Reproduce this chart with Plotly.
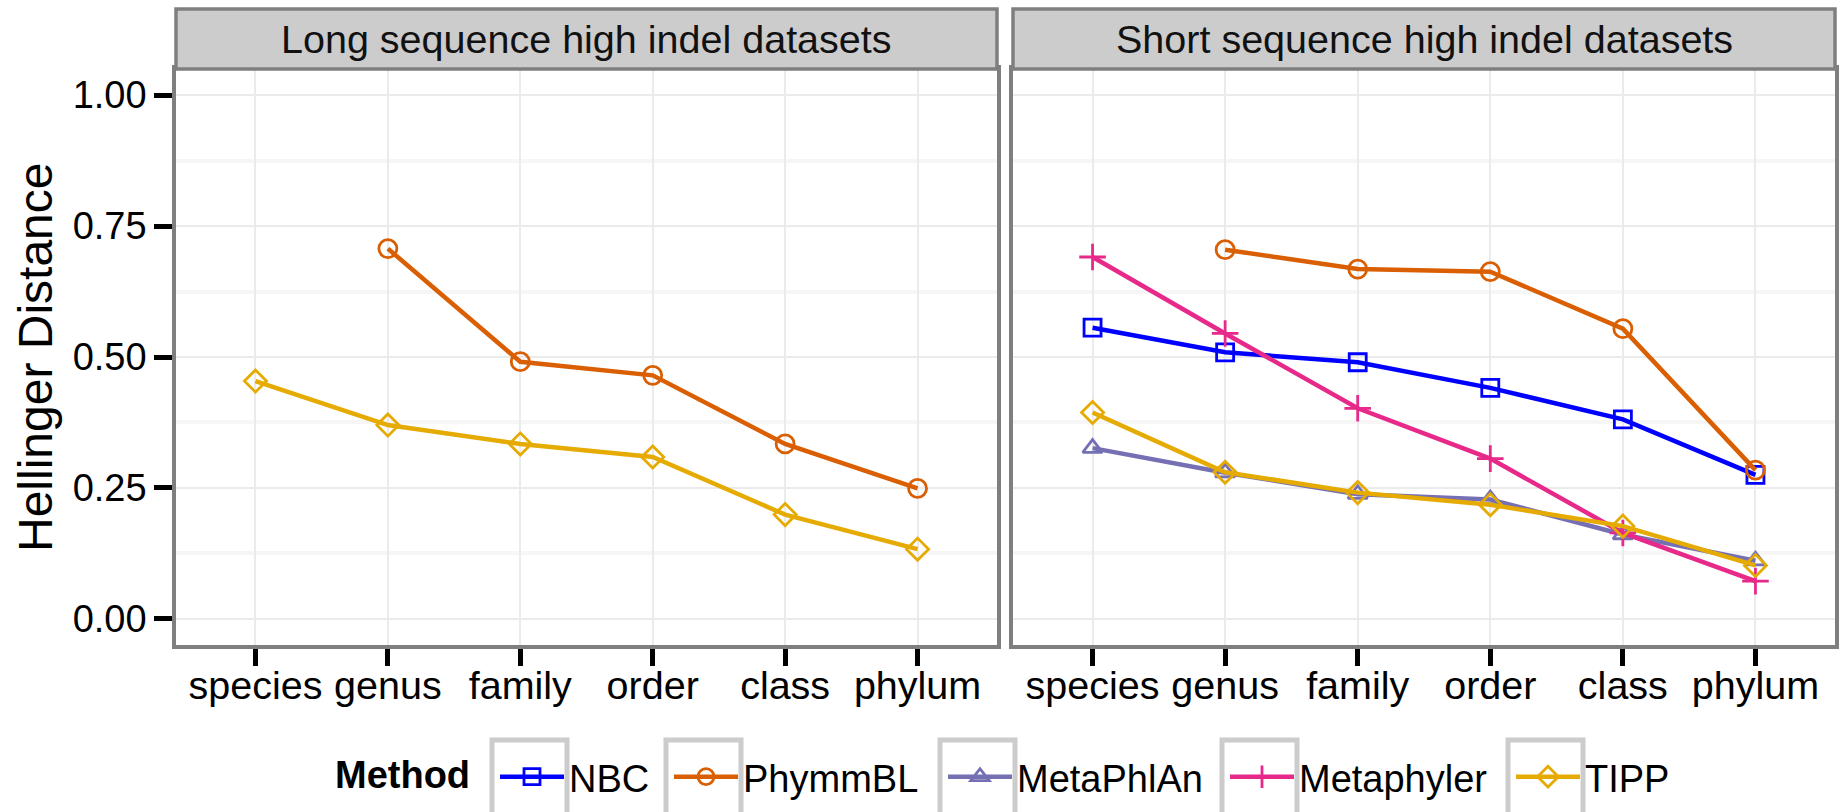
import plotly.graph_objects as go

ranks = ["species", "genus", "family", "order", "class", "phylum"]
methods = ["NBC", "PhymmBL", "MetaPhlAn", "Metaphyler", "TIPP"]
panel_titles = ["Long sequence high indel datasets", "Short sequence high indel datasets"]
legend_title = "Method"

# Long sequence panel
long_phymmbl = [None, 0.707, 0.491, 0.465, 0.334, 0.249]
long_tipp = [0.454, 0.370, 0.334, 0.309, 0.199, 0.133]

# Short sequence panel
short_nbc = [0.556, 0.509, 0.490, 0.441, 0.381, 0.275]
short_phymmbl = [None, 0.705, 0.668, 0.663, 0.554, 0.284]
short_metaphlan = [0.326, 0.279, 0.238, 0.228, 0.161, 0.111]
short_metaphyler = [0.691, 0.545, 0.402, 0.306, 0.164, 0.072]
short_tipp = [0.394, 0.280, 0.241, 0.218, 0.177, 0.102]

y_ticks = [0.0, 0.25, 0.5, 0.75, 1.0]
y_minor = [0.125, 0.375, 0.625, 0.875]

colors = {"NBC": "#0000FF", "PhymmBL": "#D95F02", "MetaPhlAn": "#7570B3",
          "Metaphyler": "#E7298A", "TIPP": "#E6AB02"}
symbols = {"NBC": "square-open", "PhymmBL": "circle-open", "MetaPhlAn": "triangle-up-open",
           "Metaphyler": "cross-thin-open", "TIPP": "diamond-open"}
sizes = {"NBC": 17, "PhymmBL": 18, "MetaPhlAn": 17, "Metaphyler": 19, "TIPP": 17}

panels = [
    {"NBC": None, "PhymmBL": long_phymmbl, "MetaPhlAn": None, "Metaphyler": None, "TIPP": long_tipp},
    {"NBC": short_nbc, "PhymmBL": short_phymmbl, "MetaPhlAn": short_metaphlan,
     "Metaphyler": short_metaphyler, "TIPP": short_tipp},
]

W, H = 1842, 812

def px(v):
    return v / W

def py(v):
    return 1 - v / H

# legend layout (pixel positions of each key's line start)
legend_line_start = [500, 674, 948, 1230, 1516]
legend_ids = ["legend", "legend2", "legend3", "legend4", "legend5"]
legend_yc = 777

fig = go.Figure()
shown = set()
for pi, panel in enumerate(panels):
    xa = "x" if pi == 0 else "x2"
    ya = "y" if pi == 0 else "y2"
    for mi, m in enumerate(methods):
        vals = panel[m]
        if vals is None:
            continue
        first = m not in shown
        shown.add(m)
        fig.add_trace(go.Scatter(
            x=ranks, y=vals, xaxis=xa, yaxis=ya, name=m, legendgroup=m,
            legend=legend_ids[mi],
            showlegend=first, mode="lines+markers",
            connectgaps=False,
            line=dict(color=colors[m], width=4.5),
            marker=dict(symbol=symbols[m], size=sizes[m], color=colors[m],
                        line=dict(color=colors[m], width=2.8)),
        ))

xdom1 = [px(176), px(997)]
xdom2 = [px(1013), px(1835)]
ydom = [py(645), py(69)]

font_family = "Liberation Sans, Arial, Helvetica, sans-serif"
common_x = dict(type="category", categoryorder="array", categoryarray=ranks,
                range=[-0.6, 5.6], showgrid=True, gridcolor="#EBEBEB", gridwidth=1.5,
                showline=True, mirror=True, linecolor="#7F7F7F", linewidth=3.5,
                ticks="outside", ticklen=17, tickwidth=5, tickcolor="#000000",
                ticklabelstandoff=-14,
                tickfont=dict(size=39.5, color="#000000"), zeroline=False)
common_y = dict(range=[-0.05, 1.05], tickvals=y_ticks, ticktext=["%.2f" % v for v in y_ticks],
                showgrid=True, gridcolor="#EBEBEB", gridwidth=1.8,
                minor=dict(tickvals=y_minor, showgrid=True, gridcolor="#F6F6F6", gridwidth=4, ticks=""),
                showline=True, mirror=True, linecolor="#7F7F7F", linewidth=3.5,
                zeroline=False, domain=ydom)

layout_legends = {}
for i, lid in enumerate(legend_ids):
    layout_legends[lid] = dict(
        orientation="h", x=px(legend_line_start[i] - 5), xanchor="left",
        y=py(legend_yc), yanchor="middle", font=dict(size=38, color="#000000"),
        itemwidth=64, bgcolor="rgba(0,0,0,0)", itemsizing="trace",
        itemclick=False, itemdoubleclick=False)

fig.update_layout(
    width=W, height=H, margin=dict(l=0, r=0, t=0, b=0),
    paper_bgcolor="white", plot_bgcolor="white",
    font=dict(family=font_family, color="#000000"),
    xaxis=dict(common_x, domain=xdom1, anchor="y"),
    xaxis2=dict(common_x, domain=xdom2, anchor="y2"),
    yaxis=dict(common_y, anchor="x", ticks="outside", ticklen=18, tickwidth=5,
               tickcolor="#000000", tickfont=dict(size=38, color="#000000")),
    yaxis2=dict(common_y, anchor="x2", matches="y", showticklabels=False, ticks=""),
    showlegend=True,
    **layout_legends,
)

# facet strips
for pi, xa in enumerate(["x", "x2"]):
    fig.add_shape(type="rect", xref=xa + " domain", yref="paper", x0=0, x1=1,
                  y0=py(69), y1=py(9), fillcolor="#CCCCCC",
                  line=dict(color="#7F7F7F", width=3.5), layer="above")
    fig.add_annotation(xref=xa + " domain", yref="paper", x=0.5, y=py(39),
                       text=panel_titles[pi], showarrow=False, xanchor="center", yanchor="middle",
                       font=dict(size=39.5, color="#111111"))

# legend key boxes
for i in range(len(methods)):
    x0 = legend_line_start[i] - 8
    fig.add_shape(type="rect", xref="paper", yref="paper", x0=px(x0), x1=px(x0 + 75),
                  y0=py(830), y1=py(740), fillcolor="white",
                  line=dict(color="#CCCCCC", width=5), layer="below")

# legend title
fig.add_annotation(xref="paper", yref="paper", x=px(333), y=py(legend_yc - 2),
                   text="<b>%s</b>" % legend_title, showarrow=False, xanchor="left", yanchor="middle",
                   font=dict(size=38, color="#000000"))

# y axis title
fig.add_annotation(xref="paper", yref="paper", x=px(35), y=(ydom[0] + ydom[1]) / 2,
                   text="Hellinger Distance", textangle=-90, showarrow=False,
                   xanchor="center", yanchor="middle", font=dict(size=48, color="#000000"))

fig.write_html("out.html")
